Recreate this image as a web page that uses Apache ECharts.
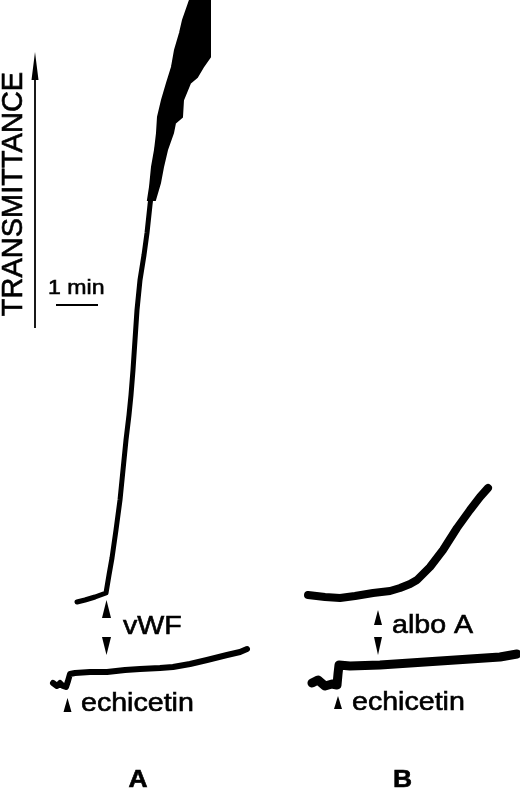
<!DOCTYPE html>
<html>
<head>
<meta charset="utf-8">
<title>Transmittance traces</title>
<script src="https://cdn.jsdelivr.net/npm/echarts@6/dist/echarts.min.js"></script>
<style>
    html, body { margin: 0; padding: 0; background: #fff; }
    #chart { width: 520px; height: 791px; }
</style>
</head>
<body>
<div id="chart"></div>
<script>
    // time axis: 42 units = 1 min ; transmittance in arbitrary units (up = more)
    // panel A, vWF added -> fast rise
    var aRise = [
        [77, 189], [85, 191], [95, 194], [106, 198], [109, 216], [112, 233],
        [116, 261], [120, 291], [123, 321], [126, 351], [129, 376], [131, 396],
        [133, 421], [135, 451], [137, 481], [140, 511], [144, 536], [147, 558],
        [150, 586], [153, 611], [157, 641], [161, 666], [166, 691], [172, 716],
        [178, 741], [185, 766], [192, 791]
    ];
    // noisy envelope at the top of the A trace (lower edge up, then upper edge down)
    var aNoise = [
        [148, 591], [150, 604], [152, 624], [155, 641], [157, 658], [158, 674],
        [162, 691], [167, 708], [172, 724], [175, 741], [180, 758], [183, 771],
        [190, 791], [210, 791], [210, 734], [203, 724], [197, 714], [190, 708],
        [183, 691], [182, 674], [175, 668], [173, 658], [167, 641], [163, 624],
        [160, 608], [155, 591]
    ];
    // panel A, echicetin only
    var aBase = [
        [53, 108], [57, 105], [60, 108], [63, 105], [66, 104], [68, 110],
        [70, 117], [75, 118], [90, 119], [107, 119], [125, 121], [140, 122],
        [160, 123], [173, 124], [190, 127], [207, 131], [227, 136], [240, 139],
        [247, 142]
    ];
    // panel B, albo A added -> slow rise
    var bRise = [
        [308, 196], [325, 194], [340, 193], [355, 195], [373, 198], [390, 200],
        [400, 203], [410, 207], [417, 211], [425, 219], [430, 224], [443, 241],
        [457, 263], [470, 281], [480, 294], [488, 303]
    ];
    // panel B, echicetin only
    var bBase = [
        [312, 108], [318, 111], [325, 105], [332, 107], [337, 106], [338, 117],
        [339, 126], [350, 125], [380, 126], [410, 128], [440, 130], [470, 132],
        [500, 134], [517, 137]
    ];
    var panelLabels = ['A', 'B'];

    var chart = echarts.init(document.getElementById('chart'));

    function trace(data, width) {
        return {
            type: 'line',
            data: data,
            showSymbol: false,
            silent: true,
            lineStyle: { color: '#000', width: width, join: 'round', cap: 'round' }
        };
    }

    // little filled arrowheads
    function tri(points) {
        return { type: 'polygon', shape: { points: points }, style: { fill: '#000' }, silent: true };
    }
    function label(txt, x, y, size, extra) {
        var el = {
            type: 'text', x: x, y: y, scaleX: 1.1, silent: true,
            style: {
                text: txt, fill: '#000', fontSize: size, fontFamily: '"Liberation Sans", Arial, sans-serif',
                align: 'left', verticalAlign: 'middle',
                stroke: '#000', lineWidth: 0.6
            }
        };
        if (extra) {
            for (var k in extra) el.style[k] = extra[k];
        }
        return el;
    }

    chart.setOption({
        animation: false,
        backgroundColor: '#fff',
        grid: { left: 0, right: 0, top: 0, bottom: 0 },
        xAxis: { type: 'value', min: 0, max: 520, show: false },
        yAxis: { type: 'value', min: 0, max: 791, show: false },
        series: [
            trace(aRise, 5),
            {
                type: 'custom',
                data: aNoise,
                silent: true,
                renderItem: function (params, api) {
                    if (params.dataIndex !== 0) return null;
                    var pts = aNoise.map(function (p) { return api.coord(p); });
                    return { type: 'polygon', shape: { points: pts }, style: { fill: '#000', stroke: '#000', lineWidth: 2 } };
                }
            },
            trace(aBase, 6),
            trace(bRise, 8),
            trace(bBase, 9)
        ],
        graphic: [
            // y axis arrow + title
            { type: 'line', shape: { x1: 35, y1: 328, x2: 35, y2: 72 }, style: { stroke: '#000', lineWidth: 1.8 }, silent: true },
            tri([[35, 52], [31.5, 80], [38.5, 80]]),
            {
                type: 'text', x: 14, y: 194, rotation: Math.PI / 2, silent: true,
                style: {
                    text: 'TRANSMITTANCE', fill: '#000', fontSize: 29,
                    fontFamily: '"Liberation Sans", Arial, sans-serif',
                    align: 'center', verticalAlign: 'middle',
                    stroke: '#000', lineWidth: 0.6
                }
            },
            // time scale bar
            label('1 min', 48, 288, 21),
            { type: 'line', shape: { x1: 56, y1: 305, x2: 98, y2: 305 }, style: { stroke: '#000', lineWidth: 1.8 }, silent: true },
            // panel A annotations
            tri([[106.5, 600], [102, 618], [111, 618]]),
            tri([[102, 637], [111, 637], [106.5, 655]]),
            label('vWF', 123, 627, 26),
            tri([[67.5, 698], [63.5, 712], [71.5, 712]]),
            label('echicetin', 81, 703.5, 26),
            // panel B annotations
            tri([[378, 610], [374, 625], [382, 625]]),
            tri([[374, 637], [382, 637], [378, 655]]),
            label('albo A', 392, 625.5, 26),
            tri([[338, 696], [334, 709], [342, 709]]),
            label('echicetin', 352, 702.5, 26),
            // panel letters
            label(panelLabels[0], 138, 780, 24, { fontWeight: 'bold', align: 'center' }),
            label(panelLabels[1], 402.5, 780, 24, { fontWeight: 'bold', align: 'center' })
        ]
    });
</script>
</body>
</html>
